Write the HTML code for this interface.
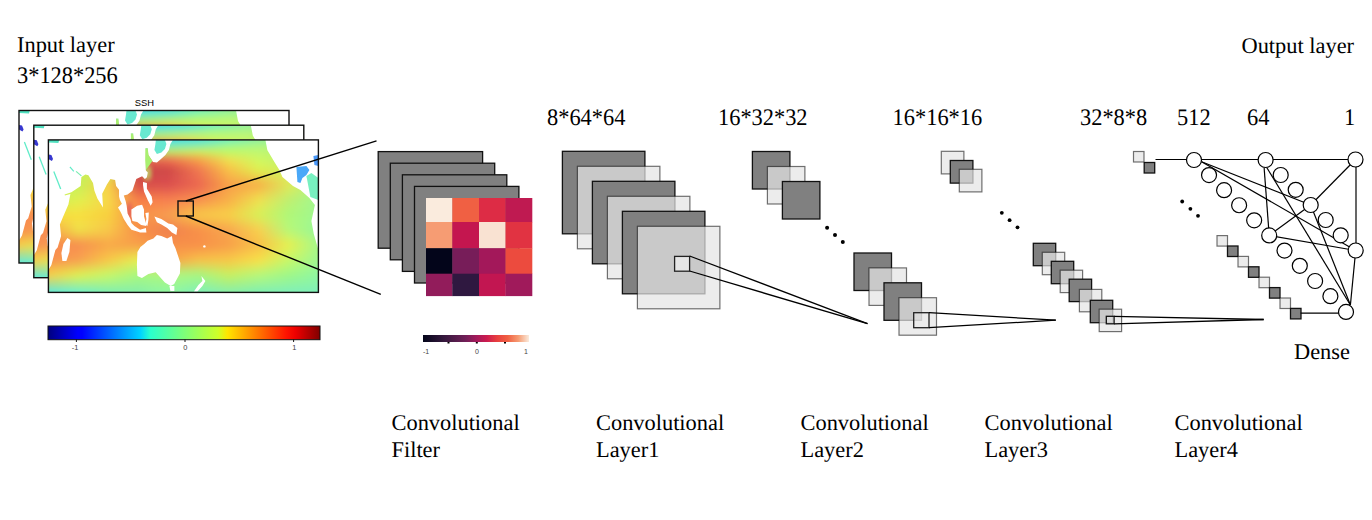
<!DOCTYPE html>
<html><head><meta charset="utf-8"><style>html,body{margin:0;padding:0;background:#fff;} svg{display:block;}</style></head>
<body><svg width="1372" height="520" viewBox="0 0 1372 520">
<rect width="1372" height="520" fill="#fff"/>
<text transform="translate(17,52.2) scale(1,1.0)" x="0" y="0" font-size="22.4" font-family="Liberation Serif" text-anchor="start" fill="#000" text-rendering="geometricPrecision">Input layer</text>
<text transform="translate(17,83.3) scale(1,1.06)" x="0" y="0" font-size="22.4" font-family="Liberation Serif" text-anchor="start" fill="#000" text-rendering="geometricPrecision">3*128*256</text>
<text transform="translate(1241.5,52.7) scale(1,1.0)" x="0" y="0" font-size="22.4" font-family="Liberation Serif" text-anchor="start" fill="#000" text-rendering="geometricPrecision">Output layer</text>
<text transform="translate(547,124.7) scale(1,1.06)" x="0" y="0" font-size="22.4" font-family="Liberation Serif" text-anchor="start" fill="#000" text-rendering="geometricPrecision">8*64*64</text>
<text transform="translate(718,124.7) scale(1,1.06)" x="0" y="0" font-size="22.4" font-family="Liberation Serif" text-anchor="start" fill="#000" text-rendering="geometricPrecision">16*32*32</text>
<text transform="translate(892.6,124.7) scale(1,1.06)" x="0" y="0" font-size="22.4" font-family="Liberation Serif" text-anchor="start" fill="#000" text-rendering="geometricPrecision">16*16*16</text>
<text transform="translate(1080,124.7) scale(1,1.06)" x="0" y="0" font-size="22.4" font-family="Liberation Serif" text-anchor="start" fill="#000" text-rendering="geometricPrecision">32*8*8</text>
<text transform="translate(1177,124.7) scale(1,1.06)" x="0" y="0" font-size="22.4" font-family="Liberation Serif" text-anchor="start" fill="#000" text-rendering="geometricPrecision">512</text>
<text transform="translate(1247,124.7) scale(1,1.06)" x="0" y="0" font-size="22.4" font-family="Liberation Serif" text-anchor="start" fill="#000" text-rendering="geometricPrecision">64</text>
<text transform="translate(1344,124.7) scale(1,1.06)" x="0" y="0" font-size="22.4" font-family="Liberation Serif" text-anchor="start" fill="#000" text-rendering="geometricPrecision">1</text>
<text transform="translate(1294,358.8) scale(1,1.0)" x="0" y="0" font-size="22.4" font-family="Liberation Serif" text-anchor="start" fill="#000" text-rendering="geometricPrecision">Dense</text>
<text transform="translate(391.5,429.7) scale(1,1.0)" x="0" y="0" font-size="22.4" font-family="Liberation Serif" text-anchor="start" fill="#000" text-rendering="geometricPrecision">Convolutional</text>
<text transform="translate(391.5,456.5) scale(1,1.0)" x="0" y="0" font-size="22.4" font-family="Liberation Serif" text-anchor="start" fill="#000" text-rendering="geometricPrecision">Filter</text>
<text transform="translate(596,429.7) scale(1,1.0)" x="0" y="0" font-size="22.4" font-family="Liberation Serif" text-anchor="start" fill="#000" text-rendering="geometricPrecision">Convolutional</text>
<text transform="translate(596,456.5) scale(1,1.0)" x="0" y="0" font-size="22.4" font-family="Liberation Serif" text-anchor="start" fill="#000" text-rendering="geometricPrecision">Layer1</text>
<text transform="translate(800.5,429.7) scale(1,1.0)" x="0" y="0" font-size="22.4" font-family="Liberation Serif" text-anchor="start" fill="#000" text-rendering="geometricPrecision">Convolutional</text>
<text transform="translate(800.5,456.5) scale(1,1.0)" x="0" y="0" font-size="22.4" font-family="Liberation Serif" text-anchor="start" fill="#000" text-rendering="geometricPrecision">Layer2</text>
<text transform="translate(984.5,429.7) scale(1,1.0)" x="0" y="0" font-size="22.4" font-family="Liberation Serif" text-anchor="start" fill="#000" text-rendering="geometricPrecision">Convolutional</text>
<text transform="translate(984.5,456.5) scale(1,1.0)" x="0" y="0" font-size="22.4" font-family="Liberation Serif" text-anchor="start" fill="#000" text-rendering="geometricPrecision">Layer3</text>
<text transform="translate(1174.5,429.7) scale(1,1.0)" x="0" y="0" font-size="22.4" font-family="Liberation Serif" text-anchor="start" fill="#000" text-rendering="geometricPrecision">Convolutional</text>
<text transform="translate(1174.5,456.5) scale(1,1.0)" x="0" y="0" font-size="22.4" font-family="Liberation Serif" text-anchor="start" fill="#000" text-rendering="geometricPrecision">Layer4</text>
<defs><symbol id="mapsym" viewBox="0 0 270 152.5" preserveAspectRatio="none" overflow="hidden"><defs><filter id="mblur" x="-20%" y="-20%" width="140%" height="140%"><feGaussianBlur stdDeviation="5"/></filter><filter id="mblur2" x="-20%" y="-20%" width="140%" height="140%"><feGaussianBlur stdDeviation="2.5"/></filter><clipPath id="mclip"><rect x="0" y="0" width="270" height="152.5"/></clipPath><linearGradient id="mbot" x1="0" y1="0" x2="0" y2="1"><stop offset="0" stop-color="#f4e84a" stop-opacity="0"/><stop offset="0.3" stop-color="#d8f858" stop-opacity="1"/><stop offset="0.65" stop-color="#98f890"/><stop offset="1" stop-color="#68ecd0"/></linearGradient><linearGradient id="mtop" x1="0" y1="0" x2="0" y2="1"><stop offset="0" stop-color="#58e0e0"/><stop offset="0.4" stop-color="#98f080"/><stop offset="0.8" stop-color="#d0f850"/><stop offset="1" stop-color="#d0f850" stop-opacity="0"/></linearGradient></defs><defs><linearGradient id="fg0" gradientUnits="userSpaceOnUse" x1="0" y1="0" x2="270" y2="0"><stop offset="0.000" stop-color="#60e0c8"/><stop offset="0.111" stop-color="#60e0c8"/><stop offset="0.222" stop-color="#60e0c8"/><stop offset="0.333" stop-color="#60e0c8"/><stop offset="0.444" stop-color="#40d8f0"/><stop offset="0.556" stop-color="#50e0e0"/><stop offset="0.667" stop-color="#70f0c0"/><stop offset="0.778" stop-color="#90f0a0"/><stop offset="0.889" stop-color="#98f088"/><stop offset="1.000" stop-color="#98f088"/></linearGradient><linearGradient id="fg1" gradientUnits="userSpaceOnUse" x1="0" y1="0" x2="270" y2="0"><stop offset="0.000" stop-color="#7ae6aa"/><stop offset="0.111" stop-color="#7ae6aa"/><stop offset="0.222" stop-color="#7ae6aa"/><stop offset="0.333" stop-color="#74e6b7"/><stop offset="0.444" stop-color="#5ae2d5"/><stop offset="0.556" stop-color="#6ae6c5"/><stop offset="0.667" stop-color="#87f3a8"/><stop offset="0.778" stop-color="#9df392"/><stop offset="0.889" stop-color="#a2ef81"/><stop offset="1.000" stop-color="#a2ef81"/></linearGradient><linearGradient id="fg2" gradientUnits="userSpaceOnUse" x1="0" y1="0" x2="270" y2="0"><stop offset="0.000" stop-color="#a8f078"/><stop offset="0.111" stop-color="#a8f078"/><stop offset="0.222" stop-color="#a8f078"/><stop offset="0.333" stop-color="#98f094"/><stop offset="0.444" stop-color="#90ec9e"/><stop offset="0.556" stop-color="#a0ee90"/><stop offset="0.667" stop-color="#aef880"/><stop offset="0.778" stop-color="#b4f87c"/><stop offset="0.889" stop-color="#b2f076"/><stop offset="1.000" stop-color="#b2f076"/></linearGradient><linearGradient id="fg3" gradientUnits="userSpaceOnUse" x1="0" y1="0" x2="270" y2="0"><stop offset="0.000" stop-color="#c0f05f"/><stop offset="0.111" stop-color="#c0f05f"/><stop offset="0.222" stop-color="#c0f05f"/><stop offset="0.333" stop-color="#b3e76e"/><stop offset="0.444" stop-color="#c3d966"/><stop offset="0.556" stop-color="#d2e35e"/><stop offset="0.667" stop-color="#c3f666"/><stop offset="0.778" stop-color="#c1f86f"/><stop offset="0.889" stop-color="#b8f070"/><stop offset="1.000" stop-color="#b8f070"/></linearGradient><linearGradient id="fg4" gradientUnits="userSpaceOnUse" x1="0" y1="0" x2="270" y2="0"><stop offset="0.000" stop-color="#c5f05a"/><stop offset="0.111" stop-color="#c5f05a"/><stop offset="0.222" stop-color="#c5f05a"/><stop offset="0.333" stop-color="#d18d5a"/><stop offset="0.444" stop-color="#e19357"/><stop offset="0.556" stop-color="#ebb64f"/><stop offset="0.667" stop-color="#e1e757"/><stop offset="0.778" stop-color="#cbf865"/><stop offset="0.889" stop-color="#bdf070"/><stop offset="1.000" stop-color="#bdf070"/></linearGradient><linearGradient id="fg5" gradientUnits="userSpaceOnUse" x1="0" y1="0" x2="270" y2="0"><stop offset="0.000" stop-color="#c8f058"/><stop offset="0.111" stop-color="#c8f058"/><stop offset="0.222" stop-color="#c8f058"/><stop offset="0.333" stop-color="#da5a4e"/><stop offset="0.444" stop-color="#e8664e"/><stop offset="0.556" stop-color="#f6964a"/><stop offset="0.667" stop-color="#f2d84e"/><stop offset="0.778" stop-color="#d4f65c"/><stop offset="0.889" stop-color="#c4f06c"/><stop offset="1.000" stop-color="#c0f070"/></linearGradient><linearGradient id="fg6" gradientUnits="userSpaceOnUse" x1="0" y1="0" x2="270" y2="0"><stop offset="0.000" stop-color="#c8f058"/><stop offset="0.111" stop-color="#c8f058"/><stop offset="0.222" stop-color="#c8f058"/><stop offset="0.333" stop-color="#ce4e4a"/><stop offset="0.444" stop-color="#d8524a"/><stop offset="0.556" stop-color="#f2824e"/><stop offset="0.667" stop-color="#f6c84a"/><stop offset="0.778" stop-color="#dcf254"/><stop offset="0.889" stop-color="#ccf064"/><stop offset="1.000" stop-color="#c0f070"/></linearGradient><linearGradient id="fg7" gradientUnits="userSpaceOnUse" x1="0" y1="0" x2="270" y2="0"><stop offset="0.000" stop-color="#c8f058"/><stop offset="0.111" stop-color="#c8f058"/><stop offset="0.222" stop-color="#d0ea55"/><stop offset="0.333" stop-color="#ca4948"/><stop offset="0.444" stop-color="#d24949"/><stop offset="0.556" stop-color="#ef7550"/><stop offset="0.667" stop-color="#f8ba48"/><stop offset="0.778" stop-color="#e4e54e"/><stop offset="0.889" stop-color="#d2ee5e"/><stop offset="1.000" stop-color="#bdf172"/></linearGradient><linearGradient id="fg8" gradientUnits="userSpaceOnUse" x1="0" y1="0" x2="270" y2="0"><stop offset="0.000" stop-color="#c8f058"/><stop offset="0.111" stop-color="#c8f058"/><stop offset="0.222" stop-color="#e0e050"/><stop offset="0.333" stop-color="#d04c48"/><stop offset="0.444" stop-color="#d64c4c"/><stop offset="0.556" stop-color="#ee7050"/><stop offset="0.667" stop-color="#f8b048"/><stop offset="0.778" stop-color="#ecd04c"/><stop offset="0.889" stop-color="#d8ec5c"/><stop offset="1.000" stop-color="#b8f478"/></linearGradient><linearGradient id="fg9" gradientUnits="userSpaceOnUse" x1="0" y1="0" x2="270" y2="0"><stop offset="0.000" stop-color="#c8f058"/><stop offset="0.111" stop-color="#c8f058"/><stop offset="0.222" stop-color="#f0d54a"/><stop offset="0.333" stop-color="#d54e48"/><stop offset="0.444" stop-color="#da4e4e"/><stop offset="0.556" stop-color="#ec6a50"/><stop offset="0.667" stop-color="#f8a548"/><stop offset="0.778" stop-color="#f4ba49"/><stop offset="0.889" stop-color="#dde959"/><stop offset="1.000" stop-color="#b2f67d"/></linearGradient><linearGradient id="fg10" gradientUnits="userSpaceOnUse" x1="0" y1="0" x2="270" y2="0"><stop offset="0.000" stop-color="#c8f058"/><stop offset="0.111" stop-color="#ccf056"/><stop offset="0.222" stop-color="#f8d148"/><stop offset="0.333" stop-color="#dd5848"/><stop offset="0.444" stop-color="#e05850"/><stop offset="0.556" stop-color="#ee6e50"/><stop offset="0.667" stop-color="#f8a248"/><stop offset="0.778" stop-color="#f6b849"/><stop offset="0.889" stop-color="#dae95c"/><stop offset="1.000" stop-color="#adf882"/></linearGradient><linearGradient id="fg11" gradientUnits="userSpaceOnUse" x1="0" y1="0" x2="270" y2="0"><stop offset="0.000" stop-color="#c8f058"/><stop offset="0.111" stop-color="#d4f054"/><stop offset="0.222" stop-color="#f8d448"/><stop offset="0.333" stop-color="#e86848"/><stop offset="0.444" stop-color="#ea6850"/><stop offset="0.556" stop-color="#f27c50"/><stop offset="0.667" stop-color="#f8a848"/><stop offset="0.778" stop-color="#f4c84c"/><stop offset="0.889" stop-color="#d0ec64"/><stop offset="1.000" stop-color="#a8f888"/></linearGradient><linearGradient id="fg12" gradientUnits="userSpaceOnUse" x1="0" y1="0" x2="270" y2="0"><stop offset="0.000" stop-color="#c8f058"/><stop offset="0.111" stop-color="#dcf051"/><stop offset="0.222" stop-color="#f8d648"/><stop offset="0.333" stop-color="#f27848"/><stop offset="0.444" stop-color="#f37850"/><stop offset="0.556" stop-color="#f68950"/><stop offset="0.667" stop-color="#f8ad48"/><stop offset="0.778" stop-color="#f1d84e"/><stop offset="0.889" stop-color="#c5ee6c"/><stop offset="1.000" stop-color="#a2f88d"/></linearGradient><linearGradient id="fg13" gradientUnits="userSpaceOnUse" x1="0" y1="0" x2="270" y2="0"><stop offset="0.000" stop-color="#d0ed54"/><stop offset="0.111" stop-color="#e4ed4d"/><stop offset="0.222" stop-color="#f8d646"/><stop offset="0.333" stop-color="#f88248"/><stop offset="0.444" stop-color="#f88550"/><stop offset="0.556" stop-color="#f8994e"/><stop offset="0.667" stop-color="#f8b548"/><stop offset="0.778" stop-color="#ece251"/><stop offset="0.889" stop-color="#bdf171"/><stop offset="1.000" stop-color="#a0f890"/></linearGradient><linearGradient id="fg14" gradientUnits="userSpaceOnUse" x1="0" y1="0" x2="270" y2="0"><stop offset="0.000" stop-color="#e0e84c"/><stop offset="0.111" stop-color="#ece848"/><stop offset="0.222" stop-color="#f8d444"/><stop offset="0.333" stop-color="#f88848"/><stop offset="0.444" stop-color="#f89050"/><stop offset="0.556" stop-color="#f8ac4c"/><stop offset="0.667" stop-color="#f8c048"/><stop offset="0.778" stop-color="#e4e854"/><stop offset="0.889" stop-color="#b8f474"/><stop offset="1.000" stop-color="#a0f890"/></linearGradient><linearGradient id="fg15" gradientUnits="userSpaceOnUse" x1="0" y1="0" x2="270" y2="0"><stop offset="0.000" stop-color="#f0e244"/><stop offset="0.111" stop-color="#f4e242"/><stop offset="0.222" stop-color="#f8d141"/><stop offset="0.333" stop-color="#f88d48"/><stop offset="0.444" stop-color="#f89a50"/><stop offset="0.556" stop-color="#f8be49"/><stop offset="0.667" stop-color="#f8ca48"/><stop offset="0.778" stop-color="#dced56"/><stop offset="0.889" stop-color="#b2f676"/><stop offset="1.000" stop-color="#a0f890"/></linearGradient><linearGradient id="fg16" gradientUnits="userSpaceOnUse" x1="0" y1="0" x2="270" y2="0"><stop offset="0.000" stop-color="#f8d541"/><stop offset="0.111" stop-color="#f6e041"/><stop offset="0.222" stop-color="#f8ce41"/><stop offset="0.333" stop-color="#f89048"/><stop offset="0.444" stop-color="#f69a50"/><stop offset="0.556" stop-color="#f8be48"/><stop offset="0.667" stop-color="#f8c949"/><stop offset="0.778" stop-color="#ddea56"/><stop offset="0.889" stop-color="#b1f878"/><stop offset="1.000" stop-color="#9ef891"/></linearGradient><linearGradient id="fg17" gradientUnits="userSpaceOnUse" x1="0" y1="0" x2="270" y2="0"><stop offset="0.000" stop-color="#f8c044"/><stop offset="0.111" stop-color="#f4e044"/><stop offset="0.222" stop-color="#f8cc44"/><stop offset="0.333" stop-color="#f89048"/><stop offset="0.444" stop-color="#f49050"/><stop offset="0.556" stop-color="#f8ac48"/><stop offset="0.667" stop-color="#f8bc4c"/><stop offset="0.778" stop-color="#e8e054"/><stop offset="0.889" stop-color="#b4f878"/><stop offset="1.000" stop-color="#9cf894"/></linearGradient><linearGradient id="fg18" gradientUnits="userSpaceOnUse" x1="0" y1="0" x2="270" y2="0"><stop offset="0.000" stop-color="#f8aa46"/><stop offset="0.111" stop-color="#f1e046"/><stop offset="0.222" stop-color="#f8c946"/><stop offset="0.333" stop-color="#f89048"/><stop offset="0.444" stop-color="#f18550"/><stop offset="0.556" stop-color="#f89948"/><stop offset="0.667" stop-color="#f8ae4e"/><stop offset="0.778" stop-color="#f2d551"/><stop offset="0.889" stop-color="#b6f878"/><stop offset="1.000" stop-color="#99f896"/></linearGradient><linearGradient id="fg19" gradientUnits="userSpaceOnUse" x1="0" y1="0" x2="270" y2="0"><stop offset="0.000" stop-color="#f89c49"/><stop offset="0.111" stop-color="#f1d249"/><stop offset="0.222" stop-color="#f8c248"/><stop offset="0.333" stop-color="#f89248"/><stop offset="0.444" stop-color="#f1824e"/><stop offset="0.556" stop-color="#f89048"/><stop offset="0.667" stop-color="#f8a64e"/><stop offset="0.778" stop-color="#f8cd4e"/><stop offset="0.889" stop-color="#c0f671"/><stop offset="1.000" stop-color="#9af895"/></linearGradient><linearGradient id="fg20" gradientUnits="userSpaceOnUse" x1="0" y1="0" x2="270" y2="0"><stop offset="0.000" stop-color="#f8944c"/><stop offset="0.111" stop-color="#f4b84c"/><stop offset="0.222" stop-color="#f8b848"/><stop offset="0.333" stop-color="#f89848"/><stop offset="0.444" stop-color="#f4884c"/><stop offset="0.556" stop-color="#f89048"/><stop offset="0.667" stop-color="#f8a44c"/><stop offset="0.778" stop-color="#f8c84c"/><stop offset="0.889" stop-color="#d0f464"/><stop offset="1.000" stop-color="#a0f890"/></linearGradient><linearGradient id="fg21" gradientUnits="userSpaceOnUse" x1="0" y1="0" x2="270" y2="0"><stop offset="0.000" stop-color="#f88c4e"/><stop offset="0.111" stop-color="#f69d4e"/><stop offset="0.222" stop-color="#f8ad48"/><stop offset="0.333" stop-color="#f89d48"/><stop offset="0.444" stop-color="#f68d49"/><stop offset="0.556" stop-color="#f89048"/><stop offset="0.667" stop-color="#f8a149"/><stop offset="0.778" stop-color="#f8c249"/><stop offset="0.889" stop-color="#e0f156"/><stop offset="1.000" stop-color="#a5f88a"/></linearGradient><linearGradient id="fg22" gradientUnits="userSpaceOnUse" x1="0" y1="0" x2="270" y2="0"><stop offset="0.000" stop-color="#f88950"/><stop offset="0.111" stop-color="#f89250"/><stop offset="0.222" stop-color="#f8ad48"/><stop offset="0.333" stop-color="#f5ad49"/><stop offset="0.444" stop-color="#f89248"/><stop offset="0.556" stop-color="#f89848"/><stop offset="0.667" stop-color="#f8a648"/><stop offset="0.778" stop-color="#f8c548"/><stop offset="0.889" stop-color="#e2f154"/><stop offset="1.000" stop-color="#a6f889"/></linearGradient><linearGradient id="fg23" gradientUnits="userSpaceOnUse" x1="0" y1="0" x2="270" y2="0"><stop offset="0.000" stop-color="#f88c50"/><stop offset="0.111" stop-color="#f89850"/><stop offset="0.222" stop-color="#f8b848"/><stop offset="0.333" stop-color="#f0c84c"/><stop offset="0.444" stop-color="#f89848"/><stop offset="0.556" stop-color="#f8a848"/><stop offset="0.667" stop-color="#f8b448"/><stop offset="0.778" stop-color="#f8d048"/><stop offset="0.889" stop-color="#d8f45c"/><stop offset="1.000" stop-color="#a4f88c"/></linearGradient><linearGradient id="fg24" gradientUnits="userSpaceOnUse" x1="0" y1="0" x2="270" y2="0"><stop offset="0.000" stop-color="#f88e50"/><stop offset="0.111" stop-color="#f89d50"/><stop offset="0.222" stop-color="#f8c248"/><stop offset="0.333" stop-color="#eae24e"/><stop offset="0.444" stop-color="#f89d48"/><stop offset="0.556" stop-color="#f8b848"/><stop offset="0.667" stop-color="#f8c148"/><stop offset="0.778" stop-color="#f8da48"/><stop offset="0.889" stop-color="#cdf664"/><stop offset="1.000" stop-color="#a1f88e"/></linearGradient><linearGradient id="fg25" gradientUnits="userSpaceOnUse" x1="0" y1="0" x2="270" y2="0"><stop offset="0.000" stop-color="#f89a4e"/><stop offset="0.111" stop-color="#f4ad50"/><stop offset="0.222" stop-color="#f0d04d"/><stop offset="0.333" stop-color="#ddf158"/><stop offset="0.444" stop-color="#ecae51"/><stop offset="0.556" stop-color="#eac951"/><stop offset="0.667" stop-color="#f0ce4c"/><stop offset="0.778" stop-color="#ede450"/><stop offset="0.889" stop-color="#c1f86d"/><stop offset="1.000" stop-color="#9df892"/></linearGradient><linearGradient id="fg26" gradientUnits="userSpaceOnUse" x1="0" y1="0" x2="270" y2="0"><stop offset="0.000" stop-color="#f8b04c"/><stop offset="0.111" stop-color="#ecc850"/><stop offset="0.222" stop-color="#e0e058"/><stop offset="0.333" stop-color="#c8f468"/><stop offset="0.444" stop-color="#d4cc64"/><stop offset="0.556" stop-color="#d0dc64"/><stop offset="0.667" stop-color="#e0dc54"/><stop offset="0.778" stop-color="#d8ec60"/><stop offset="0.889" stop-color="#b4f878"/><stop offset="1.000" stop-color="#98f898"/></linearGradient><linearGradient id="fg27" gradientUnits="userSpaceOnUse" x1="0" y1="0" x2="270" y2="0"><stop offset="0.000" stop-color="#f8c549"/><stop offset="0.111" stop-color="#e4e250"/><stop offset="0.222" stop-color="#d0f062"/><stop offset="0.333" stop-color="#b2f678"/><stop offset="0.444" stop-color="#bce976"/><stop offset="0.556" stop-color="#b5ee76"/><stop offset="0.667" stop-color="#d0e95c"/><stop offset="0.778" stop-color="#c2f470"/><stop offset="0.889" stop-color="#a6f882"/><stop offset="1.000" stop-color="#92f89d"/></linearGradient><linearGradient id="fg28" gradientUnits="userSpaceOnUse" x1="0" y1="0" x2="270" y2="0"><stop offset="0.000" stop-color="#e2d35c"/><stop offset="0.111" stop-color="#d0f061"/><stop offset="0.222" stop-color="#bdf672"/><stop offset="0.333" stop-color="#a3f685"/><stop offset="0.444" stop-color="#abf884"/><stop offset="0.556" stop-color="#a2f688"/><stop offset="0.667" stop-color="#bef06a"/><stop offset="0.778" stop-color="#b0f680"/><stop offset="0.889" stop-color="#9bf68e"/><stop offset="1.000" stop-color="#8df6a3"/></linearGradient><linearGradient id="fg29" gradientUnits="userSpaceOnUse" x1="0" y1="0" x2="270" y2="0"><stop offset="0.000" stop-color="#b6da85"/><stop offset="0.111" stop-color="#b0f083"/><stop offset="0.222" stop-color="#a9f486"/><stop offset="0.333" stop-color="#9af491"/><stop offset="0.444" stop-color="#a2f78d"/><stop offset="0.556" stop-color="#96f498"/><stop offset="0.667" stop-color="#acf07e"/><stop offset="0.778" stop-color="#a0f490"/><stop offset="0.889" stop-color="#92f49c"/><stop offset="1.000" stop-color="#89f4aa"/></linearGradient><linearGradient id="fg30" gradientUnits="userSpaceOnUse" x1="0" y1="0" x2="270" y2="0"><stop offset="0.000" stop-color="#8be1ae"/><stop offset="0.111" stop-color="#90f0a5"/><stop offset="0.222" stop-color="#94f29b"/><stop offset="0.333" stop-color="#91f29c"/><stop offset="0.444" stop-color="#99f896"/><stop offset="0.556" stop-color="#8bf2a8"/><stop offset="0.667" stop-color="#9af093"/><stop offset="0.778" stop-color="#90f2a0"/><stop offset="0.889" stop-color="#89f2aa"/><stop offset="1.000" stop-color="#84f2b1"/></linearGradient><linearGradient id="fg31" gradientUnits="userSpaceOnUse" x1="0" y1="0" x2="270" y2="0"><stop offset="0.000" stop-color="#60e8d8"/><stop offset="0.111" stop-color="#70f0c8"/><stop offset="0.222" stop-color="#80f0b0"/><stop offset="0.333" stop-color="#88f0a8"/><stop offset="0.444" stop-color="#90f8a0"/><stop offset="0.556" stop-color="#80f0b8"/><stop offset="0.667" stop-color="#88f0a8"/><stop offset="0.778" stop-color="#80f0b0"/><stop offset="0.889" stop-color="#80f0b8"/><stop offset="1.000" stop-color="#80f0b8"/></linearGradient><linearGradient id="fg32" gradientUnits="userSpaceOnUse" x1="0" y1="0" x2="270" y2="0"><stop offset="0.000" stop-color="#60e8d8"/><stop offset="0.111" stop-color="#70f0c8"/><stop offset="0.222" stop-color="#80f0b0"/><stop offset="0.333" stop-color="#88f0a8"/><stop offset="0.444" stop-color="#90f8a0"/><stop offset="0.556" stop-color="#80f0b8"/><stop offset="0.667" stop-color="#88f0a8"/><stop offset="0.778" stop-color="#80f0b0"/><stop offset="0.889" stop-color="#80f0b8"/><stop offset="1.000" stop-color="#80f0b8"/></linearGradient></defs><g clip-path="url(#mclip)"><g filter="url(#mblur2)"><rect x="-10" y="-5" width="290" height="5.5" fill="url(#fg0)"/><rect x="-10" y="0" width="290" height="5.5" fill="url(#fg1)"/><rect x="-10" y="5" width="290" height="5.5" fill="url(#fg2)"/><rect x="-10" y="10" width="290" height="5.5" fill="url(#fg3)"/><rect x="-10" y="15" width="290" height="5.5" fill="url(#fg4)"/><rect x="-10" y="20" width="290" height="5.5" fill="url(#fg5)"/><rect x="-10" y="25" width="290" height="5.5" fill="url(#fg6)"/><rect x="-10" y="30" width="290" height="5.5" fill="url(#fg7)"/><rect x="-10" y="35" width="290" height="5.5" fill="url(#fg8)"/><rect x="-10" y="40" width="290" height="5.5" fill="url(#fg9)"/><rect x="-10" y="45" width="290" height="5.5" fill="url(#fg10)"/><rect x="-10" y="50" width="290" height="5.5" fill="url(#fg11)"/><rect x="-10" y="55" width="290" height="5.5" fill="url(#fg12)"/><rect x="-10" y="60" width="290" height="5.5" fill="url(#fg13)"/><rect x="-10" y="65" width="290" height="5.5" fill="url(#fg14)"/><rect x="-10" y="70" width="290" height="5.5" fill="url(#fg15)"/><rect x="-10" y="75" width="290" height="5.5" fill="url(#fg16)"/><rect x="-10" y="80" width="290" height="5.5" fill="url(#fg17)"/><rect x="-10" y="85" width="290" height="5.5" fill="url(#fg18)"/><rect x="-10" y="90" width="290" height="5.5" fill="url(#fg19)"/><rect x="-10" y="95" width="290" height="5.5" fill="url(#fg20)"/><rect x="-10" y="100" width="290" height="5.5" fill="url(#fg21)"/><rect x="-10" y="105" width="290" height="5.5" fill="url(#fg22)"/><rect x="-10" y="110" width="290" height="5.5" fill="url(#fg23)"/><rect x="-10" y="115" width="290" height="5.5" fill="url(#fg24)"/><rect x="-10" y="120" width="290" height="5.5" fill="url(#fg25)"/><rect x="-10" y="125" width="290" height="5.5" fill="url(#fg26)"/><rect x="-10" y="130" width="290" height="5.5" fill="url(#fg27)"/><rect x="-10" y="135" width="290" height="5.5" fill="url(#fg28)"/><rect x="-10" y="140" width="290" height="5.5" fill="url(#fg29)"/><rect x="-10" y="145" width="290" height="5.5" fill="url(#fg30)"/><rect x="-10" y="150" width="290" height="5.5" fill="url(#fg31)"/><rect x="-10" y="155" width="290" height="5.5" fill="url(#fg32)"/><ellipse cx="80.5" cy="72" rx="3.5" ry="11" fill="#e45858"/><ellipse cx="99" cy="33" rx="2.2" ry="7" fill="#b8f070"/></g></g><polygon points="0,0 124.5,0 122,4 120.5,10 117,15 112,19.5 108.5,22.5 104.6,22 100,15 99.4,8 97,8 97.5,20 97.5,30.6 99.4,32.5 98.5,37.3 96.5,39.2 93.7,36.3 87.9,39.2 85,47.9 84,50.8 79.2,54.6 75.4,55.6 77.3,61.3 78.3,66 79.2,73.5 82.1,79.2 83,83 86,86 91.7,89.8 97.5,88 98,92.7 91.7,92.7 88.8,91.7 83,89.8 79.2,85 75.4,79.2 72.5,72.5 69.6,67.7 73.5,63.8 71.5,60 70.6,56.5 70.6,49.8 67.7,46 66.7,40.2 62,39.2 58.5,44.6 53.8,53.8 54.6,67.7 49,58.5 46,50.8 44.6,43 40,35.4 37,34.6 33,37 32.3,46 23,52.3 16.2,54.6 16.5,55.5 22,54 20,64.6 14.6,77 11.5,84.6 12.7,96 9.2,107.7 7,110 3,125 0,130" fill="#fff"/><polygon points="83,69.6 88.8,65.8 93.7,64.8 95.6,69.6 95.6,76.3 97.5,83 98,86 92.7,85 88.8,82.1 84,81.2 83,76.3" fill="#fff"/><polygon points="94.6,42 98.5,43 98.5,48.8 103.3,56.5 104.2,62.3 102.3,65.8 99.4,60.4 95.6,51.7 94.6,45" fill="#fff"/><polygon points="97,73 100.4,72.5 100,80 99,86 97,84 98,79" fill="#fff"/><polygon points="106,76.5 113,79 120,83.5 124.6,84.6 129,88 128,95 123.5,92.7 118.8,88 113,84.6 108.5,82.3" fill="#fff"/><polygon points="89,112 92,107 95.8,104 99.2,100.8 105,98.5 108.5,95 113,96 118.8,98.5 123.5,96 124.6,103 127,108 129,114 132,123 131.5,133.5 125.8,144 122.3,146 116.5,142.7 107.3,132.3 100,134 93.5,138 89,136 88.5,125" fill="#fff"/><polygon points="121,146 126,146 126,151 122,151" fill="#fff"/><polygon points="153,136 157,141 154,146 149,151.5 145.5,151.5 150,145 154,141" fill="#fff"/><circle cx="156" cy="106.5" r="1.2" fill="#fff"/><polygon points="19,98 22,100 21,112 18,121 14,121 13,113 15,104" fill="#fff"/><polygon points="217,0 270,0 270,110 265.4,94 263,81 266.5,65 261,58 252,50 244.6,46 234,37 231,30 226,22 219,10.4" fill="#fff"/><polygon points="248,27 258,26 261,30 258,35 254,38 252,43 249,42" fill="#4aa8f8"/><polygon points="265,16 270,15 270,26 266,25" fill="#4a98f8"/><polygon points="258,36 263,33 270,38 270,60 262,57" fill="#78f0c0"/><polygon points="107.5,0 116.5,0 118,4 116.5,9 113,12.5 108.5,14 106,10 107,4" fill="#68e8d0"/><polygon points="97.2,9 99.2,9 100,15 104,21 97.5,30 96.8,20" fill="#a8f070"/><polyline points="5.4,31.5 12.3,49.2" stroke="#60ecc8" stroke-width="1.3" fill="none"/><polyline points="21.5,27 25.4,31.5" stroke="#60ecc8" stroke-width="1.2" fill="none"/><polyline points="27.7,31.5 33,36" stroke="#78ecb0" stroke-width="1.2" fill="none"/><polygon points="0,14.6 3,15 4.6,19 3.5,21 0,19" fill="#3838d0"/><polygon points="0,0 10.8,0 10,3 0,2.5" fill="#50e0c0"/></symbol></defs>
<g transform="translate(19,110.5)">
<rect x="0" y="0" width="270" height="152.5" fill="#fff"/>
<use href="#mapsym" x="0" y="0" width="270" height="152.5"/>
<rect x="0" y="0" width="270" height="152.5" fill="none" stroke="#111" stroke-width="1.4"/>
</g>
<g transform="translate(33.8,125.2)">
<rect x="0" y="0" width="270" height="152.5" fill="#fff"/>
<use href="#mapsym" x="0" y="0" width="270" height="152.5"/>
<rect x="0" y="0" width="270" height="152.5" fill="none" stroke="#111" stroke-width="1.4"/>
</g>
<g transform="translate(48.4,139.9)">
<rect x="0" y="0" width="270" height="152.5" fill="#fff"/>
<use href="#mapsym" x="0" y="0" width="270" height="152.5"/>
<rect x="0" y="0" width="270" height="152.5" fill="none" stroke="#111" stroke-width="1.4"/>
</g>
<text x="144.5" y="105.8" font-size="9.4" font-family="Liberation Sans" text-anchor="middle" fill="#000">SSH</text>
<rect x="178" y="201" width="15.3" height="15" fill="none" stroke="#111" stroke-width="1.4"/>
<line x1="185.8" y1="201" x2="376.5" y2="140.8" stroke="#000" stroke-width="1.4"/>
<line x1="185.8" y1="216" x2="380.8" y2="294.3" stroke="#000" stroke-width="1.4"/>
<defs>
<linearGradient id="jet" x1="0" x2="1" y1="0" y2="0">
<stop offset="0" stop-color="#00007f"/><stop offset="0.11" stop-color="#0000ff"/>
<stop offset="0.125" stop-color="#0000ff"/><stop offset="0.34" stop-color="#00d4ff"/>
<stop offset="0.375" stop-color="#29ffce"/><stop offset="0.5" stop-color="#7dff7a"/>
<stop offset="0.625" stop-color="#ceff29"/><stop offset="0.66" stop-color="#ffe500"/>
<stop offset="0.875" stop-color="#ff1400"/><stop offset="0.91" stop-color="#ee0000"/><stop offset="1" stop-color="#7f0000"/>
</linearGradient>
<linearGradient id="rocket" x1="0" x2="1" y1="0" y2="0">
<stop offset="0" stop-color="#03051a"/><stop offset="0.2" stop-color="#36193e"/>
<stop offset="0.4" stop-color="#701f57"/><stop offset="0.5" stop-color="#a11a5b"/>
<stop offset="0.6" stop-color="#cb1b4f"/><stop offset="0.7" stop-color="#e83f3f"/>
<stop offset="0.8" stop-color="#f06043"/><stop offset="0.9" stop-color="#f69c73"/><stop offset="1" stop-color="#faebdd"/>
</linearGradient>
</defs>
<rect x="48" y="326" width="272" height="13.7" fill="url(#jet)" stroke="#111" stroke-width="1"/>
<line x1="76.4" y1="339.7" x2="76.4" y2="342" stroke="#000" stroke-width="0.9"/>
<text x="75" y="349.7" font-size="7.4" font-family="Liberation Sans" text-anchor="middle" fill="#444">-1</text>
<line x1="185" y1="339.7" x2="185" y2="342" stroke="#000" stroke-width="0.9"/>
<text x="185.2" y="349.7" font-size="7.4" font-family="Liberation Sans" text-anchor="middle" fill="#444">0</text>
<line x1="293.6" y1="339.7" x2="293.6" y2="342" stroke="#000" stroke-width="0.9"/>
<text x="294.2" y="349.7" font-size="7.4" font-family="Liberation Sans" text-anchor="middle" fill="#444">1</text>
<rect x="378.2" y="151.6" width="104.4" height="96.6" fill="#808080" stroke="#111" stroke-width="1.3"/>
<rect x="390.3" y="163.2" width="104.4" height="96.6" fill="#808080" stroke="#111" stroke-width="1.3"/>
<rect x="402.4" y="174.79999999999998" width="104.4" height="96.6" fill="#808080" stroke="#111" stroke-width="1.3"/>
<rect x="414.5" y="186.39999999999998" width="104.4" height="96.6" fill="#808080" stroke="#111" stroke-width="1.3"/>
<rect x="426" y="198" width="26.600000000000012" height="24.3" fill="#faebdd"/>
<rect x="452.3" y="198" width="26.99999999999999" height="24.3" fill="#f06043"/>
<rect x="479" y="198" width="26.8" height="24.3" fill="#dd2c45"/>
<rect x="505.5" y="198" width="26.8" height="24.3" fill="#bf1a51"/>
<rect x="426" y="222" width="26.600000000000012" height="26.49999999999999" fill="#f69c73"/>
<rect x="452.3" y="222" width="26.99999999999999" height="26.49999999999999" fill="#c4164f"/>
<rect x="479" y="222" width="26.8" height="26.49999999999999" fill="#f9e2d2"/>
<rect x="505.5" y="222" width="26.8" height="26.49999999999999" fill="#e13342"/>
<rect x="426" y="248.2" width="26.600000000000012" height="25.8" fill="#03051a"/>
<rect x="452.3" y="248.2" width="26.99999999999999" height="25.8" fill="#771d59"/>
<rect x="479" y="248.2" width="26.8" height="25.8" fill="#a3185a"/>
<rect x="505.5" y="248.2" width="26.8" height="25.8" fill="#ec4b3e"/>
<rect x="426" y="273.7" width="26.600000000000012" height="22.400000000000023" fill="#921c5b"/>
<rect x="452.3" y="273.7" width="26.99999999999999" height="22.400000000000023" fill="#2f1840"/>
<rect x="479" y="273.7" width="26.8" height="22.400000000000023" fill="#c21651"/>
<rect x="505.5" y="273.7" width="26.8" height="22.400000000000023" fill="#a01a5b"/>
<rect x="423" y="335" width="106" height="7" fill="url(#rocket)"/>
<rect x="447.5" y="342" width="2" height="1.5" fill="#000"/>
<rect x="475.8" y="342" width="2" height="1.5" fill="#000"/>
<rect x="504" y="342" width="2" height="1.5" fill="#000"/>
<text x="426" y="353.5" font-size="7" font-family="Liberation Sans" text-anchor="middle" fill="#444">-1</text>
<text x="477" y="353.5" font-size="7" font-family="Liberation Sans" text-anchor="middle" fill="#444">0</text>
<text x="526" y="353.5" font-size="7" font-family="Liberation Sans" text-anchor="middle" fill="#444">1</text>
<rect x="562.4" y="151.3" width="82.5" height="82.5" fill="#808080" stroke="#111" stroke-width="1.3"/>
<rect x="577.4" y="166.3" width="82.5" height="82.5" fill="rgba(228,228,228,0.72)" stroke="rgba(0,0,0,0.55)" stroke-width="1.2"/>
<rect x="592.4" y="181.3" width="82.5" height="82.5" fill="#808080" stroke="#111" stroke-width="1.3"/>
<rect x="607.4" y="196.3" width="82.5" height="82.5" fill="rgba(228,228,228,0.72)" stroke="rgba(0,0,0,0.55)" stroke-width="1.2"/>
<rect x="622.4" y="211.3" width="82.5" height="82.5" fill="#808080" stroke="#111" stroke-width="1.3"/>
<rect x="637.4" y="226.3" width="82.5" height="82.5" fill="rgba(228,228,228,0.72)" stroke="rgba(0,0,0,0.55)" stroke-width="1.2"/>
<rect x="674.6" y="256.4" width="15" height="14.8" fill="#e6e6e6" stroke="#222" stroke-width="1.3"/>
<line x1="689.6" y1="256" x2="867.5" y2="323.7" stroke="#000" stroke-width="1.3"/>
<line x1="689.6" y1="271" x2="867.5" y2="323.7" stroke="#000" stroke-width="1.3"/>
<rect x="752.4" y="151.5" width="37.5" height="37.5" fill="#808080" stroke="#111" stroke-width="1.3"/>
<rect x="767.4" y="166.5" width="37.5" height="37.5" fill="rgba(228,228,228,0.72)" stroke="rgba(0,0,0,0.55)" stroke-width="1.2"/>
<rect x="782.4" y="181.5" width="37.5" height="37.5" fill="#808080" stroke="#111" stroke-width="1.3"/>
<circle cx="827.1" cy="227.7" r="2" fill="#000"/>
<circle cx="835" cy="235" r="2" fill="#000"/>
<circle cx="842.8" cy="242.1" r="2" fill="#000"/>
<rect x="854" y="253.0" width="37.5" height="37.5" fill="#808080" stroke="#111" stroke-width="1.3"/>
<rect x="869" y="267.9" width="37.5" height="37.5" fill="rgba(228,228,228,0.72)" stroke="rgba(0,0,0,0.55)" stroke-width="1.2"/>
<rect x="884" y="282.8" width="37.5" height="37.5" fill="#808080" stroke="#111" stroke-width="1.3"/>
<rect x="899" y="297.7" width="37.5" height="37.5" fill="rgba(228,228,228,0.72)" stroke="rgba(0,0,0,0.55)" stroke-width="1.2"/>
<rect x="913.7" y="312.7" width="15.3" height="15" fill="rgba(235,235,235,0.5)" stroke="#222" stroke-width="1.3"/>
<line x1="929" y1="312.7" x2="1055.8" y2="320.2" stroke="#000" stroke-width="1.3"/>
<line x1="929" y1="327.7" x2="1055.8" y2="320.2" stroke="#000" stroke-width="1.3"/>
<rect x="941.3" y="151.3" width="22.6" height="22.6" fill="rgba(228,228,228,0.72)" stroke="rgba(0,0,0,0.55)" stroke-width="1.2"/>
<rect x="950.3" y="160.5" width="22.6" height="22.6" fill="#808080" stroke="#111" stroke-width="1.3"/>
<rect x="959.3" y="169.3" width="22.6" height="22.6" fill="rgba(228,228,228,0.72)" stroke="rgba(0,0,0,0.55)" stroke-width="1.2"/>
<circle cx="1001.8" cy="212.8" r="1.9" fill="#000"/>
<circle cx="1009.6" cy="220.2" r="1.9" fill="#000"/>
<circle cx="1017.5" cy="227.3" r="1.9" fill="#000"/>
<rect x="1033.3" y="243.3" width="22.4" height="22.4" fill="#808080" stroke="#111" stroke-width="1.3"/>
<rect x="1042.3" y="252.3" width="22.4" height="22.4" fill="rgba(228,228,228,0.72)" stroke="rgba(0,0,0,0.55)" stroke-width="1.2"/>
<rect x="1051.3" y="261.3" width="22.4" height="22.4" fill="#808080" stroke="#111" stroke-width="1.3"/>
<rect x="1060.2" y="270.2" width="22.4" height="22.4" fill="rgba(228,228,228,0.72)" stroke="rgba(0,0,0,0.55)" stroke-width="1.2"/>
<rect x="1069.2" y="279.2" width="22.4" height="22.4" fill="#808080" stroke="#111" stroke-width="1.3"/>
<rect x="1079.4" y="289.4" width="22.4" height="22.4" fill="rgba(228,228,228,0.72)" stroke="rgba(0,0,0,0.55)" stroke-width="1.2"/>
<rect x="1090.3" y="300.3" width="22.4" height="22.4" fill="#808080" stroke="#111" stroke-width="1.3"/>
<rect x="1099.2" y="309.2" width="22.4" height="22.4" fill="rgba(228,228,228,0.72)" stroke="rgba(0,0,0,0.55)" stroke-width="1.2"/>
<rect x="1106.3" y="316.3" width="7.8" height="7.5" fill="rgba(235,235,235,0.5)" stroke="#111" stroke-width="1.3"/>
<line x1="1114.1" y1="316.3" x2="1263.7" y2="319.5" stroke="#000" stroke-width="1.3"/>
<line x1="1114.1" y1="323.8" x2="1263.7" y2="319.5" stroke="#000" stroke-width="1.3"/>
<rect x="1133.5" y="151.5" width="10.5" height="10.5" fill="rgba(228,228,228,0.72)" stroke="rgba(0,0,0,0.55)" stroke-width="1.2"/>
<rect x="1144.2" y="162.5" width="10.5" height="10.5" fill="#808080" stroke="#111" stroke-width="1.3"/>
<circle cx="1182.2" cy="201.5" r="1.9" fill="#000"/>
<circle cx="1190.4" cy="208.8" r="1.9" fill="#000"/>
<circle cx="1198" cy="215.8" r="1.9" fill="#000"/>
<rect x="1217.0" y="235.6" width="10.5" height="10.5" fill="rgba(228,228,228,0.72)" stroke="rgba(0,0,0,0.55)" stroke-width="1.2"/>
<rect x="1227.5" y="246.0" width="10.5" height="10.5" fill="#808080" stroke="#111" stroke-width="1.3"/>
<rect x="1238.0" y="256.4" width="10.5" height="10.5" fill="rgba(228,228,228,0.72)" stroke="rgba(0,0,0,0.55)" stroke-width="1.2"/>
<rect x="1248.5" y="266.8" width="10.5" height="10.5" fill="#808080" stroke="#111" stroke-width="1.3"/>
<rect x="1259.0" y="277.2" width="10.5" height="10.5" fill="rgba(228,228,228,0.72)" stroke="rgba(0,0,0,0.55)" stroke-width="1.2"/>
<rect x="1269.5" y="287.6" width="10.5" height="10.5" fill="#808080" stroke="#111" stroke-width="1.3"/>
<rect x="1280.0" y="298.0" width="10.5" height="10.5" fill="rgba(228,228,228,0.72)" stroke="rgba(0,0,0,0.55)" stroke-width="1.2"/>
<rect x="1290.5" y="308.4" width="10.5" height="10.5" fill="#808080" stroke="#111" stroke-width="1.3"/>
<line x1="1194" y1="159.5" x2="1265.6" y2="159.5" stroke="#000" stroke-width="1.2"/>
<line x1="1265.6" y1="159.5" x2="1355.5" y2="159.5" stroke="#000" stroke-width="1.2"/>
<line x1="1356" y1="159.5" x2="1356" y2="250.5" stroke="#000" stroke-width="1.2"/>
<line x1="1355.7" y1="250.5" x2="1350.4" y2="305" stroke="#000" stroke-width="1.2"/>
<line x1="1310.7" y1="205" x2="1355.5" y2="159.5" stroke="#000" stroke-width="1.2"/>
<line x1="1201.6" y1="161.7" x2="1310.7" y2="205" stroke="#000" stroke-width="1.2"/>
<line x1="1201.6" y1="161.7" x2="1355.7" y2="250.5" stroke="#000" stroke-width="1.2"/>
<line x1="1269.2" y1="235.4" x2="1310.7" y2="205" stroke="#000" stroke-width="1.2"/>
<line x1="1269.2" y1="235.4" x2="1355.7" y2="250.5" stroke="#000" stroke-width="1.2"/>
<line x1="1264.1" y1="167.5" x2="1269.2" y2="235.4" stroke="#000" stroke-width="1.2"/>
<line x1="1266.7" y1="167.5" x2="1350.4" y2="305" stroke="#000" stroke-width="1.2"/>
<line x1="1310.7" y1="205" x2="1350.4" y2="305" stroke="#000" stroke-width="1.2"/>
<line x1="1155.5" y1="159.5" x2="1194" y2="159.5" stroke="#000" stroke-width="1.2"/>
<line x1="1300.6" y1="313.1" x2="1340" y2="313.1" stroke="#000" stroke-width="1.2"/>
<circle cx="1194" cy="160" r="7.5" fill="#fff" stroke="#000" stroke-width="1.2"/>
<circle cx="1269.2" cy="235.4" r="7.5" fill="#fff" stroke="#000" stroke-width="1.2"/>
<circle cx="1265.6" cy="160" r="7.5" fill="#fff" stroke="#000" stroke-width="1.2"/>
<circle cx="1310.7" cy="205" r="7.5" fill="#fff" stroke="#000" stroke-width="1.2"/>
<circle cx="1346" cy="311.9" r="7.5" fill="#fff" stroke="#000" stroke-width="1.2"/>
<circle cx="1355.5" cy="159.5" r="7.5" fill="#fff" stroke="#000" stroke-width="1.2"/>
<circle cx="1355.7" cy="250.5" r="7.5" fill="#fff" stroke="#000" stroke-width="1.2"/>
<circle cx="1209.04" cy="175.08" r="7.5" fill="#fff" stroke="#000" stroke-width="1.2"/>
<circle cx="1224.08" cy="190.16" r="7.5" fill="#fff" stroke="#000" stroke-width="1.2"/>
<circle cx="1239.12" cy="205.24" r="7.5" fill="#fff" stroke="#000" stroke-width="1.2"/>
<circle cx="1254.16" cy="220.32" r="7.5" fill="#fff" stroke="#000" stroke-width="1.2"/>
<circle cx="1284.5" cy="250.6" r="7.5" fill="#fff" stroke="#000" stroke-width="1.2"/>
<circle cx="1299.8" cy="265.8" r="7.5" fill="#fff" stroke="#000" stroke-width="1.2"/>
<circle cx="1315.1000000000001" cy="281.0" r="7.5" fill="#fff" stroke="#000" stroke-width="1.2"/>
<circle cx="1330.4" cy="296.2" r="7.5" fill="#fff" stroke="#000" stroke-width="1.2"/>
<circle cx="1280.7" cy="175" r="7.5" fill="#fff" stroke="#000" stroke-width="1.2"/>
<circle cx="1295.7" cy="189.8" r="7.5" fill="#fff" stroke="#000" stroke-width="1.2"/>
<circle cx="1325.7" cy="220" r="7.5" fill="#fff" stroke="#000" stroke-width="1.2"/>
<circle cx="1340.7" cy="235.3" r="7.5" fill="#fff" stroke="#000" stroke-width="1.2"/>
</svg></body></html>
